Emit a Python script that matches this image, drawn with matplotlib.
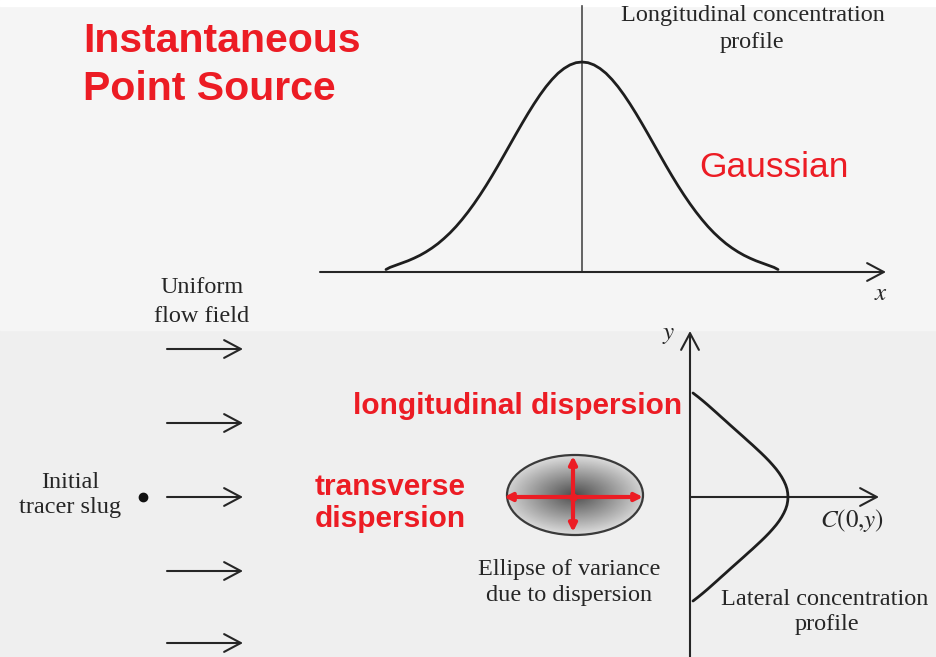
import numpy as np
import matplotlib
matplotlib.use("Agg")
import matplotlib.pyplot as plt
from matplotlib.patches import Ellipse

# --- values (pixel units, y grows downwards) ---
# longitudinal profile: offset from the centre line and height above the x axis
long_centre = 582
long_base = 272
long_offset = [0, 6, 12, 18, 24, 30, 36, 42, 48, 54, 60, 66, 72, 78, 84, 90, 96,
               102, 108, 114, 120, 126, 132, 138, 144, 150, 156, 162, 168, 174,
               180, 186, 192, 196]
long_height = [210, 209.3, 207.1, 203.5, 198.7, 192.5, 185.3, 177.1, 168.1, 158.5,
               148.4, 138.0, 127.4, 116.8, 106.3, 96.1, 86.3, 77.0, 68.2, 60.0,
               52.4, 45.4, 39.1, 33.5, 28.4, 24.0, 20.1, 16.7, 13.8, 11.2,
               9.0, 6.8, 4.6, 2.5]

# lateral profile: offset from the x axis and distance from the y axis
lat_centre = 497
lat_base = 690
lat_offset = [0, 4, 8, 12, 16, 20, 24, 28, 32, 36, 40, 44, 48, 52, 56, 60, 64,
              68, 72, 76, 80, 84, 88, 92, 96, 100, 104]
lat_height = [98, 97.7, 97.0, 95.7, 93.9, 91.7, 89.1, 86.1, 82.7, 79.1, 75.2,
              71.1, 66.8, 62.5, 58.0, 53.6, 49.1, 44.6, 40.1, 35.7, 31.2, 26.8,
              22.3, 17.8, 13.1, 8.2, 3.0]

flow_rows = [349, 423, 497, 571, 643]
flow_start, flow_end = 167, 243

ellipse_centre = (575, 495)
ellipse_size = (136, 80)

RED = "#ec1c24"
INK = "#262626"
SANS = "Liberation Sans"
SERIF = "Liberation Serif"

plt.rcParams["mathtext.fontset"] = "stix"

fig = plt.figure(figsize=(9.37, 6.57), dpi=100, facecolor="#efefef")
ax = fig.add_axes([0, 0, 1, 1])
ax.set_facecolor("#efefef")
ax.set_xlim(0, 937)
ax.set_ylim(657, 0)
ax.axis("off")

# paper: upper part a bit lighter than the lower, show-through part
ax.axhspan(0, 330, color="#f5f5f5", zorder=0)
ax.axhspan(0, 6, color="white", zorder=0)

open_head = dict(arrowstyle="->,head_length=0.6,head_width=0.32", color=INK,
                 lw=1.5, mutation_scale=20, shrinkA=0, shrinkB=0)

# ---- top: longitudinal concentration profile ----
ax.plot([long_centre, long_centre], [6, long_base], color="#4a4a4a", lw=1.2, zorder=2)
ax.annotate("", xy=(886, long_base), xytext=(320, long_base), arrowprops=open_head, zorder=2)

off = np.array(long_offset)
hgt = np.array(long_height)
cx = np.concatenate([long_centre - off[::-1], long_centre + off[1:]])
cy = long_base - np.concatenate([hgt[::-1], hgt[1:]])
ax.plot(cx, cy, color="#1e1e1e", lw=2.0, solid_capstyle="round", zorder=3)

ax.text(881, 300, r"$x$", fontsize=18, color=INK, ha="center")
ax.text(753, 21, "Longitudinal concentration", family=SERIF, fontsize=17.5, color=INK, ha="center")
ax.text(752, 48, "profile", family=SERIF, fontsize=17.5, color=INK, ha="center")
ax.text(774, 177, "Gaussian", family=SANS, fontsize=25.5, color=RED, ha="center")

ax.text(83, 52, "Instantaneous", family=SANS, fontweight="bold", fontsize=29.5, color=RED)
ax.text(83, 100, "Point Source", family=SANS, fontweight="bold", fontsize=29.5, color=RED)

# ---- flow field ----
ax.text(202, 293, "Uniform", family=SERIF, fontsize=17.5, color=INK, ha="center")
ax.text(202, 322, "flow field", family=SERIF, fontsize=17.5, color=INK, ha="center")
for y in flow_rows:
    ax.annotate("", xy=(flow_end, y), xytext=(flow_start, y), arrowprops=open_head, zorder=2)

ax.text(70, 488, "Initial", family=SERIF, fontsize=17.5, color=INK, ha="center")
ax.text(70, 513, "tracer slug", family=SERIF, fontsize=17.5, color=INK, ha="center")
ax.plot([143], [497], "o", color="#111111", ms=6, zorder=3)

# ---- ellipse of variance ----
ell = Ellipse(ellipse_centre, *ellipse_size, fc="none", ec="#3a3a3a", lw=1.6, zorder=4)
ax.add_patch(ell)
gx, gy = np.meshgrid(np.linspace(-1, 1, 240), np.linspace(-1, 1, 140))
shade = np.sqrt(gx ** 2 + (gy * 1.1) ** 2)
w, h = ellipse_size
img = ax.imshow(shade, cmap="gray", vmin=-0.58, vmax=1.35, interpolation="bilinear",
                extent=[ellipse_centre[0] - w / 2, ellipse_centre[0] + w / 2,
                        ellipse_centre[1] + h / 2, ellipse_centre[1] - h / 2], zorder=3)
img.set_clip_path(ell)
ax.set_aspect("auto")
ax.set_xlim(0, 937)
ax.set_ylim(657, 0)

red_arrow = dict(arrowstyle="<|-|>", color=RED, lw=3, mutation_scale=11, shrinkA=0, shrinkB=0)
ax.annotate("", xy=(504, 497), xytext=(643, 497), arrowprops=red_arrow, zorder=5)
ax.annotate("", xy=(573, 456), xytext=(573, 532), arrowprops=red_arrow, zorder=5)
ax.plot([573], [497], "o", color=RED, ms=5, zorder=6)

ax.text(569, 575, "Ellipse of variance", family=SERIF, fontsize=17.5, color=INK, ha="center")
ax.text(569, 601, "due to dispersion", family=SERIF, fontsize=17.5, color=INK, ha="center")

ax.text(353, 414, "longitudinal dispersion", family=SANS, fontweight="bold", fontsize=21.5, color=RED)
ax.text(315, 495, "transverse", family=SANS, fontweight="bold", fontsize=21.5, color=RED)
ax.text(315, 527, "dispersion", family=SANS, fontweight="bold", fontsize=21.5, color=RED)

# ---- bottom right: lateral concentration profile ----
ax.annotate("", xy=(lat_base, 331), xytext=(lat_base, 660), arrowprops=open_head, zorder=2)
ax.annotate("", xy=(879, lat_centre), xytext=(lat_base, lat_centre), arrowprops=open_head, zorder=2)

off = np.array(lat_offset)
hgt = np.array(lat_height)
ly = np.concatenate([lat_centre - off[::-1], lat_centre + off[1:]])
lx = lat_base + np.concatenate([hgt[::-1], hgt[1:]])
ax.plot(lx, ly, color="#1e1e1e", lw=2.0, solid_capstyle="round", zorder=3)

ax.text(669, 339, r"$y$", fontsize=18, color=INK, ha="center")
ax.text(852, 527, r"$C(0{,}y)$", fontsize=18, color=INK, ha="center")
ax.text(825, 605, "Lateral concentration", family=SERIF, fontsize=17.5, color=INK, ha="center")
ax.text(827, 630, "profile", family=SERIF, fontsize=17.5, color=INK, ha="center")

fig.savefig("out.png", dpi=100, facecolor=fig.get_facecolor())
